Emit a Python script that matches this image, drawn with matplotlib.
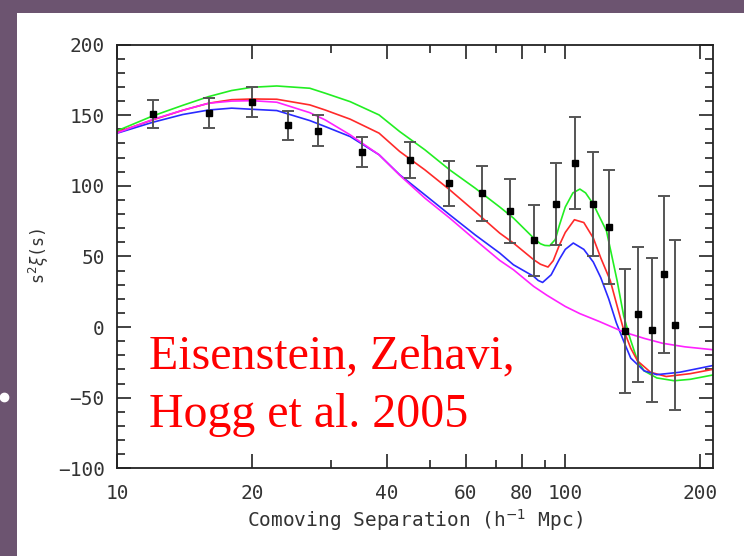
import matplotlib
matplotlib.use('Agg')
import matplotlib.pyplot as plt
from matplotlib.patches import Rectangle
from matplotlib.lines import Line2D

plt.rcParams['font.family'] = ['DejaVu Sans Mono', 'DejaVu Sans']
plt.rcParams['mathtext.fontset'] = 'dejavusans'

# measured correlation function points
s_data = [12.0, 16.0, 20.0, 24.1, 28.0, 35.1, 45.1, 55.1, 65.2, 75.2, 85.3,
          95.2, 105.3, 115.5, 125.3, 135.7, 145.6, 155.9, 165.9, 175.8]
xi_data = [151, 151.6, 159.4, 142.9, 138.9, 124, 118.2, 101.9, 94.8, 82.1, 61.3,
           87.1, 116.3, 87.3, 71, -2.8, 9, -2.3, 37.3, 1.5]
xi_err = [10, 10.5, 10.6, 10.4, 11, 10.5, 13, 16, 19.5, 22.4, 25.3,
          29.2, 32.5, 36.7, 40.5, 43.6, 48, 51, 55.4, 60]

# model curves
s_green = [10, 12, 14, 16, 18, 20, 22.7, 26.9, 29.1, 33.1, 38.4, 42.7, 48.6, 55.2, 62.9,
           71.4, 76.6, 85, 88, 90, 92.3, 95, 97, 100, 104, 107.8, 111, 115.5, 123.6,
           130.5, 135, 139.5, 145, 150, 160, 175, 190, 213]
xi_green = [139, 149.5, 157, 163.2, 167.5, 169.8, 170.7, 169.1, 165.6, 159.6, 150.2, 138.4,
            125.5, 111.3, 98.4, 85, 77.2, 63, 59, 57.8, 57.6, 62, 72, 85, 95, 97.7, 95, 87,
            68, 33, 8, -8, -24, -31, -36, -38, -37, -34]

s_red = [10, 12, 14, 16, 18, 20, 22.7, 26.9, 29.1, 33.1, 38.4, 42.7, 48.6, 55.2, 62.9,
         71.4, 76.6, 85, 88, 91.5, 94, 97, 100, 104.8, 110, 115.5, 120, 126, 130, 135,
         140, 145, 155, 168, 190, 213]
xi_red = [138, 146.7, 153.5, 158.5, 161, 161.5, 161.3, 157.3, 153.7, 147.2, 137.3, 124.3,
          111.3, 97.2, 81.8, 66.5, 59.5, 47.7, 44.5, 42.5, 47, 58, 67, 76, 74, 63, 49,
          33, 17, -2, -15, -24, -32, -35, -33, -30]

s_blue = [10, 12, 14, 16, 18, 20, 22.7, 26.9, 29.1, 33.1, 38.4, 42.7, 48.6, 55.2, 62.9,
          71.4, 76.6, 85, 87, 89, 93, 97, 100, 104.2, 110, 115.5, 120, 125, 130, 135,
          140, 150, 160, 180, 213]
xi_blue = [137.3, 145, 150.5, 153.7, 155, 154.2, 153.3, 146.2, 142, 134.9, 122, 107.8,
           93.6, 79.5, 65.3, 52.4, 44.1, 35.9, 33, 31.6, 37, 48, 55, 59.5, 55, 46, 35,
           20, 3, -10, -22, -31, -33.7, -32, -27.3]

s_mag = [10, 12, 14, 16, 18, 20, 22.7, 26.9, 29.1, 33.1, 38.4, 42.7, 48.6, 55.2, 62.9,
         71.4, 76.6, 85, 91, 100, 107.8, 119, 135, 150, 165, 185, 213]
xi_mag = [137.5, 147, 153.5, 158.5, 160, 160.3, 159.2, 151.8, 146.7, 136.1, 122, 107.5,
          91.3, 77.2, 61.8, 47.2, 40.6, 28.8, 22.5, 14.6, 9.5, 4, -3.5, -8, -11.5, -14, -16]

fig = plt.figure(figsize=(7.44, 5.56), dpi=100)
fig.patch.set_facecolor('#6c5470')
fig.add_artist(Rectangle((17 / 744, 0), 1, 1 - 13 / 556, transform=fig.transFigure,
                         facecolor='white', edgecolor='none', zorder=0))
fig.add_artist(Line2D([4 / 744], [1 - 397 / 556], transform=fig.transFigure,
                      marker='o', markersize=6, color='white', markeredgecolor='white'))

ax = fig.add_axes([117.3 / 744, 1 - 468.3 / 556, 596 / 744, 423.7 / 556])
ax.set_xscale('log')

ax.plot(s_green, xi_green, color='#22ee22', lw=1.2)
ax.plot(s_red, xi_red, color='#ff2a2a', lw=1.2)
ax.plot(s_blue, xi_blue, color='#2a2aff', lw=1.2)
ax.plot(s_mag, xi_mag, color='#ff22ff', lw=1.2)
ax.errorbar(s_data, xi_data, yerr=xi_err, fmt='s', color='black', ms=5,
            ecolor='#555555', elinewidth=1.4, capsize=4, capthick=1.4, zorder=5)

ax.set_xlim(10, 214)
ax.set_ylim(-100, 200)
ax.set_xticks([10, 20, 40, 60, 80, 100, 200])
ax.set_xticklabels(['10', '20', '40', '60', '80', '100', '200'])
ax.set_xticks([30, 50, 70, 90], minor=True)
ax.set_yticks(range(-100, 201, 50))
ax.set_yticklabels(['\u2212100', '\u221250', '0', '50', '100', '150', '200'])
ax.set_yticks(range(-100, 201, 10), minor=True)
ax.tick_params(which='both', direction='in', top=True, right=True, color='#222222',
               labelcolor='#333333', labelsize=14)
ax.tick_params(which='major', length=10, width=1.2)
ax.tick_params(which='minor', length=5.5, width=1.2)
ax.tick_params(axis='x', which='major', pad=11)
ax.tick_params(axis='y', which='major', pad=9)
ax.xaxis.set_minor_formatter(matplotlib.ticker.NullFormatter())
for sp in ax.spines.values():
    sp.set_linewidth(1.3)
    sp.set_color('#222222')

ax.set_xlabel('Comoving Separation (h$^{-1}$ Mpc)', fontsize=14, color='#333333', labelpad=3)
ax.set_ylabel('s$^2\\xi$(s)', fontsize=12, color='#333333', labelpad=5)

ax.text(0.0537, 0.236, 'Eisenstein, Zehavi,', transform=ax.transAxes, va='baseline',
        ha='left', color='red', fontsize=34.5, family='Liberation Serif')
ax.text(0.0537, 0.098, 'Hogg et al. 2005', transform=ax.transAxes, va='baseline',
        ha='left', color='red', fontsize=34.5, family='Liberation Serif')

fig.savefig('out.png', dpi=100, facecolor=fig.get_facecolor())
